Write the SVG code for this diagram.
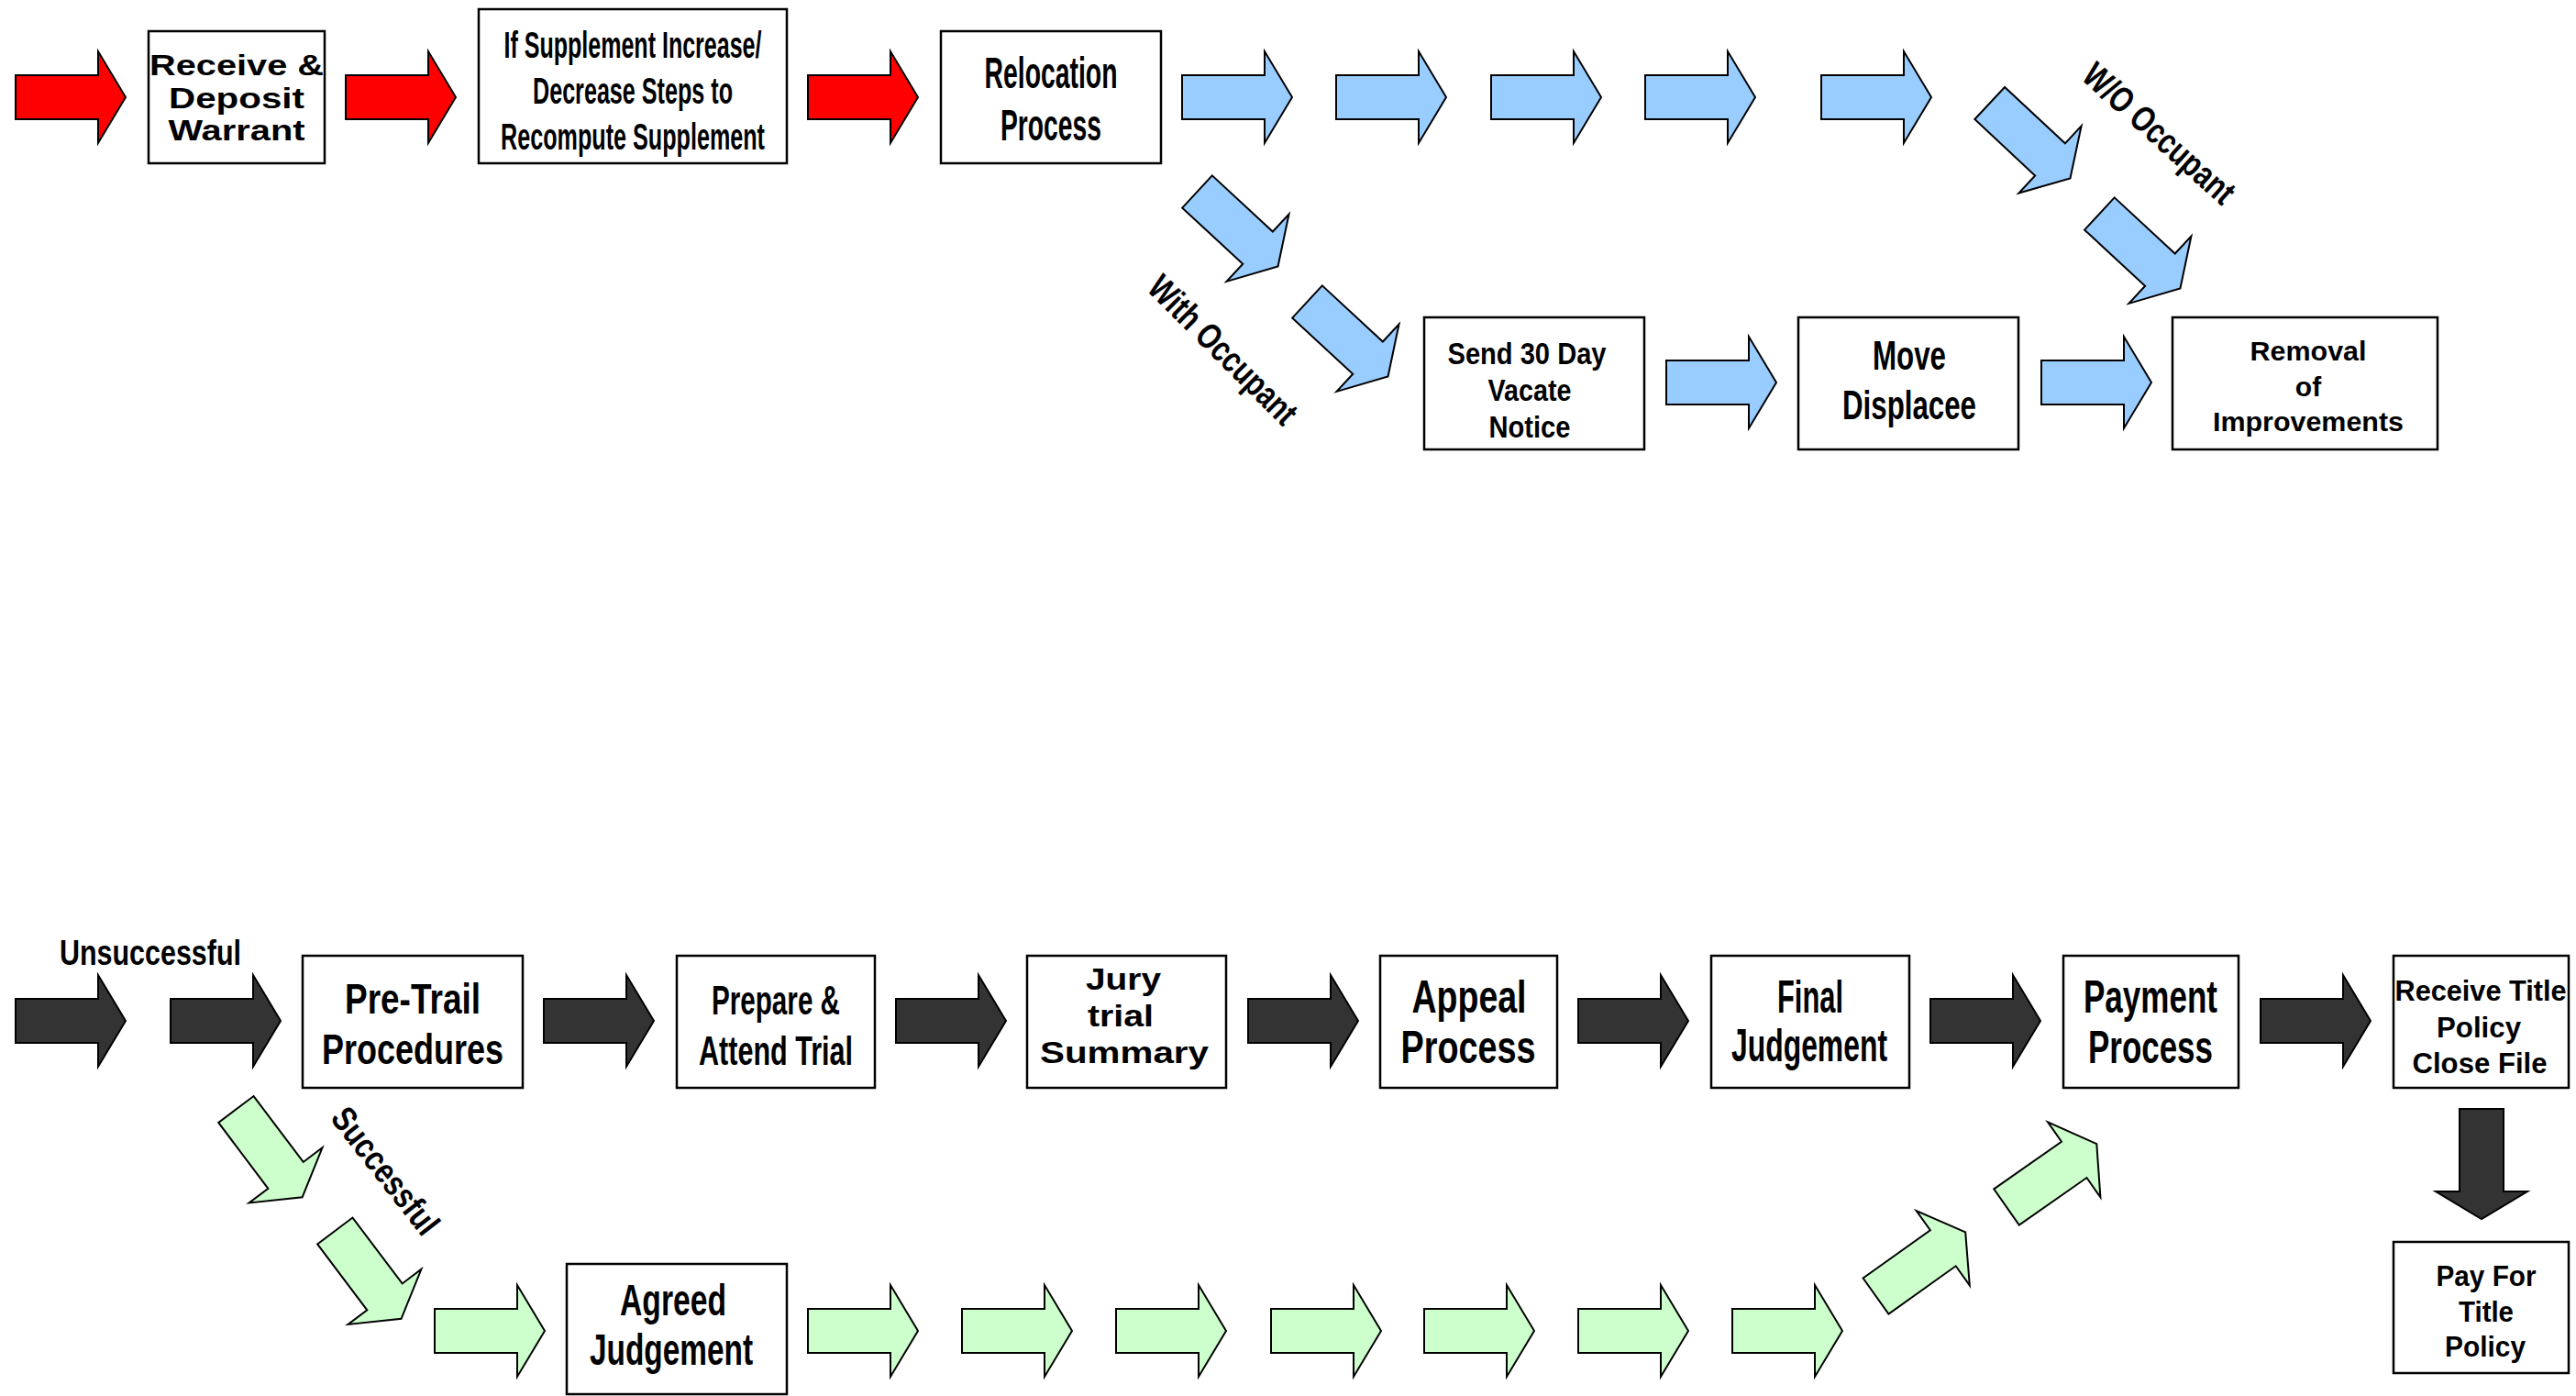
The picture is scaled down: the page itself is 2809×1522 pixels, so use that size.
<svg xmlns="http://www.w3.org/2000/svg" xmlns:xlink="http://www.w3.org/1999/xlink" width="2809" height="1522" viewBox="0 0 2809 1522">
<style>
.bg{fill:#fff}
.box{fill:#fff;stroke:#000;stroke-width:2.5}
.t{font-family:"Liberation Sans",Arial,sans-serif;font-weight:bold;fill:#000;text-anchor:middle}
.arrow{stroke:#000;stroke-width:2;stroke-linejoin:miter}
.red{fill:#ff0000}
.blue{fill:#99ccff}
.dark{fill:#333333}
.green{fill:#ccffcc}
</style>
<defs>
<path id="arw" d="M0,-24 H90 V-50 L120,0 L90,50 V24 H0 Z"/>
</defs>
<rect class="bg" x="0" y="0" width="2809" height="1522"/>

<g id="connectors">
  <use href="#arw" class="arrow red" transform="translate(17,106)"/>
  <use href="#arw" class="arrow red" transform="translate(377,106)"/>
  <use href="#arw" class="arrow red" transform="translate(881,106)"/>
  <use href="#arw" class="arrow blue" transform="translate(1289,106)"/>
  <use href="#arw" class="arrow blue" transform="translate(1457,106)"/>
  <use href="#arw" class="arrow blue" transform="translate(1626,106)"/>
  <use href="#arw" class="arrow blue" transform="translate(1794,106)"/>
  <use href="#arw" class="arrow blue" transform="translate(1986,106)"/>
  <use href="#arw" class="arrow blue" transform="translate(1305.5,209) rotate(42.8)"/>
  <use href="#arw" class="arrow blue" transform="translate(1425.5,329) rotate(42.8)"/>
  <use href="#arw" class="arrow blue" transform="translate(2169.7,112.5) rotate(43)"/>
  <use href="#arw" class="arrow blue" transform="translate(2289.4,233) rotate(42.8)"/>
  <use href="#arw" class="arrow blue" transform="translate(1817,417)"/>
  <use href="#arw" class="arrow blue" transform="translate(2226,417)"/>
  <use href="#arw" class="arrow dark" transform="translate(17,1113)"/>
  <use href="#arw" class="arrow dark" transform="translate(186,1113)"/>
  <use href="#arw" class="arrow dark" transform="translate(593,1113)"/>
  <use href="#arw" class="arrow dark" transform="translate(977,1113)"/>
  <use href="#arw" class="arrow dark" transform="translate(1361,1113)"/>
  <use href="#arw" class="arrow dark" transform="translate(1721,1113)"/>
  <use href="#arw" class="arrow dark" transform="translate(2105,1113)"/>
  <use href="#arw" class="arrow dark" transform="translate(2465,1113)"/>
  <use href="#arw" class="arrow dark" transform="translate(2706,1209) rotate(90)"/>
  <use href="#arw" class="arrow green" transform="translate(257.4,1209.5) rotate(53)"/>
  <use href="#arw" class="arrow green" transform="translate(365.3,1342) rotate(53)"/>
  <use href="#arw" class="arrow green" transform="translate(474,1451)"/>
  <use href="#arw" class="arrow green" transform="translate(881,1451)"/>
  <use href="#arw" class="arrow green" transform="translate(1049,1451)"/>
  <use href="#arw" class="arrow green" transform="translate(1217,1451)"/>
  <use href="#arw" class="arrow green" transform="translate(1386,1451)"/>
  <use href="#arw" class="arrow green" transform="translate(1553,1451)"/>
  <use href="#arw" class="arrow green" transform="translate(1721,1451)"/>
  <use href="#arw" class="arrow green" transform="translate(1889,1451)"/>
  <use href="#arw" class="arrow green" transform="translate(2045.5,1413) rotate(-35.5)"/>
  <use href="#arw" class="arrow green" transform="translate(2188,1316) rotate(-35)"/>
</g>

<g id="labels">
  <text class="t" font-size="39" textLength="212" lengthAdjust="spacingAndGlyphs" transform="translate(1334,381) rotate(45)" x="0" y="14">With Occupant</text>
  <text class="t" font-size="39" textLength="208" lengthAdjust="spacingAndGlyphs" transform="translate(2355,145) rotate(42)" x="0" y="14">W/O Occupant</text>
  <text class="t" font-size="39" x="164" y="1052" textLength="198" lengthAdjust="spacingAndGlyphs">Unsuccessful</text>
  <text class="t" font-size="38" textLength="165" lengthAdjust="spacingAndGlyphs" transform="translate(421,1276) rotate(52)" x="0" y="14">Successful</text>
</g>

<g id="receive-deposit-warrant">
  <rect class="box" x="162" y="34" width="192" height="144"/>
  <text class="t" font-size="31" x="258" y="82" textLength="190" lengthAdjust="spacingAndGlyphs">Receive &amp;</text>
  <text class="t" font-size="31" x="258" y="118" textLength="148" lengthAdjust="spacingAndGlyphs">Deposit</text>
  <text class="t" font-size="31" x="258" y="153" textLength="149" lengthAdjust="spacingAndGlyphs">Warrant</text>
</g>

<g id="supplement-steps">
  <rect class="box" x="522" y="10" width="336" height="168"/>
  <text class="t" font-size="40" x="690" y="63" textLength="281" lengthAdjust="spacingAndGlyphs">If Supplement Increase/</text>
  <text class="t" font-size="40" x="690" y="113" textLength="218" lengthAdjust="spacingAndGlyphs">Decrease Steps to</text>
  <text class="t" font-size="40" x="690" y="163" textLength="288" lengthAdjust="spacingAndGlyphs">Recompute Supplement</text>
</g>

<g id="relocation-process">
  <rect class="box" x="1026" y="34" width="240" height="144"/>
  <text class="t" font-size="48" x="1146" y="96" textLength="145" lengthAdjust="spacingAndGlyphs">Relocation</text>
  <text class="t" font-size="48" x="1146" y="153" textLength="110" lengthAdjust="spacingAndGlyphs">Process</text>
</g>

<g id="send-vacate-notice">
  <rect class="box" x="1553" y="346" width="240" height="144"/>
  <text class="t" font-size="33" x="1665" y="397" textLength="173" lengthAdjust="spacingAndGlyphs">Send 30 Day</text>
  <text class="t" font-size="33" x="1668" y="437" textLength="91" lengthAdjust="spacingAndGlyphs">Vacate</text>
  <text class="t" font-size="33" x="1668" y="477" textLength="89" lengthAdjust="spacingAndGlyphs">Notice</text>
</g>

<g id="move-displacee">
  <rect class="box" x="1961" y="346" width="240" height="144"/>
  <text class="t" font-size="44" x="2082" y="403" textLength="80" lengthAdjust="spacingAndGlyphs">Move</text>
  <text class="t" font-size="44" x="2082" y="457" textLength="146" lengthAdjust="spacingAndGlyphs">Displacee</text>
</g>

<g id="removal-improvements">
  <rect class="box" x="2369" y="346" width="289" height="144"/>
  <text class="t" font-size="30" x="2517" y="393" textLength="127" lengthAdjust="spacingAndGlyphs">Removal</text>
  <text class="t" font-size="30" x="2517" y="432">of</text>
  <text class="t" font-size="30" x="2517" y="470" textLength="208" lengthAdjust="spacingAndGlyphs">Improvements</text>
</g>

<g id="pre-trail-procedures">
  <rect class="box" x="330" y="1042" width="240" height="144"/>
  <text class="t" font-size="46" x="450" y="1105" textLength="148" lengthAdjust="spacingAndGlyphs">Pre-Trail</text>
  <text class="t" font-size="46" x="450" y="1160" textLength="198" lengthAdjust="spacingAndGlyphs">Procedures</text>
</g>

<g id="prepare-attend-trial">
  <rect class="box" x="738" y="1042" width="216" height="144"/>
  <text class="t" font-size="44" x="846" y="1106" textLength="140" lengthAdjust="spacingAndGlyphs">Prepare &amp;</text>
  <text class="t" font-size="44" x="846" y="1161" textLength="168" lengthAdjust="spacingAndGlyphs">Attend Trial</text>
</g>

<g id="jury-trial-summary">
  <rect class="box" x="1120" y="1042" width="217" height="144"/>
  <text class="t" font-size="33" x="1225" y="1079" textLength="82" lengthAdjust="spacingAndGlyphs">Jury</text>
  <text class="t" font-size="33" x="1222" y="1119" textLength="72" lengthAdjust="spacingAndGlyphs">trial</text>
  <text class="t" font-size="33" x="1226" y="1159" textLength="184" lengthAdjust="spacingAndGlyphs">Summary</text>
</g>

<g id="appeal-process">
  <rect class="box" x="1505" y="1042" width="193" height="144"/>
  <text class="t" font-size="50" x="1602" y="1104" textLength="125" lengthAdjust="spacingAndGlyphs">Appeal</text>
  <text class="t" font-size="50" x="1601" y="1159" textLength="147" lengthAdjust="spacingAndGlyphs">Process</text>
</g>

<g id="final-judgement">
  <rect class="box" x="1866" y="1042" width="216" height="144"/>
  <text class="t" font-size="50" x="1974" y="1104" textLength="72" lengthAdjust="spacingAndGlyphs">Final</text>
  <text class="t" font-size="50" x="1973" y="1157" textLength="170" lengthAdjust="spacingAndGlyphs">Judgement</text>
</g>

<g id="payment-process">
  <rect class="box" x="2250" y="1042" width="191" height="144"/>
  <text class="t" font-size="50" x="2345" y="1104" textLength="146" lengthAdjust="spacingAndGlyphs">Payment</text>
  <text class="t" font-size="50" x="2345" y="1159" textLength="136" lengthAdjust="spacingAndGlyphs">Process</text>
</g>

<g id="receive-title-policy">
  <rect class="box" x="2610" y="1042" width="191" height="144"/>
  <text class="t" font-size="32" x="2705" y="1091" textLength="187" lengthAdjust="spacingAndGlyphs">Receive Title</text>
  <text class="t" font-size="32" x="2703" y="1131" textLength="92" lengthAdjust="spacingAndGlyphs">Policy</text>
  <text class="t" font-size="32" x="2704" y="1170" textLength="147" lengthAdjust="spacingAndGlyphs">Close File</text>
</g>

<g id="pay-for-title-policy">
  <rect class="box" x="2610" y="1354" width="191" height="143"/>
  <text class="t" font-size="32" x="2711" y="1402" textLength="109" lengthAdjust="spacingAndGlyphs">Pay For</text>
  <text class="t" font-size="32" x="2711" y="1441" textLength="60" lengthAdjust="spacingAndGlyphs">Title</text>
  <text class="t" font-size="32" x="2710" y="1479" textLength="88" lengthAdjust="spacingAndGlyphs">Policy</text>
</g>

<g id="agreed-judgement">
  <rect class="box" x="618" y="1378" width="240" height="142"/>
  <text class="t" font-size="48" x="734" y="1434" textLength="116" lengthAdjust="spacingAndGlyphs">Agreed</text>
  <text class="t" font-size="48" x="732" y="1488" textLength="178" lengthAdjust="spacingAndGlyphs">Judgement</text>
</g>
</svg>
